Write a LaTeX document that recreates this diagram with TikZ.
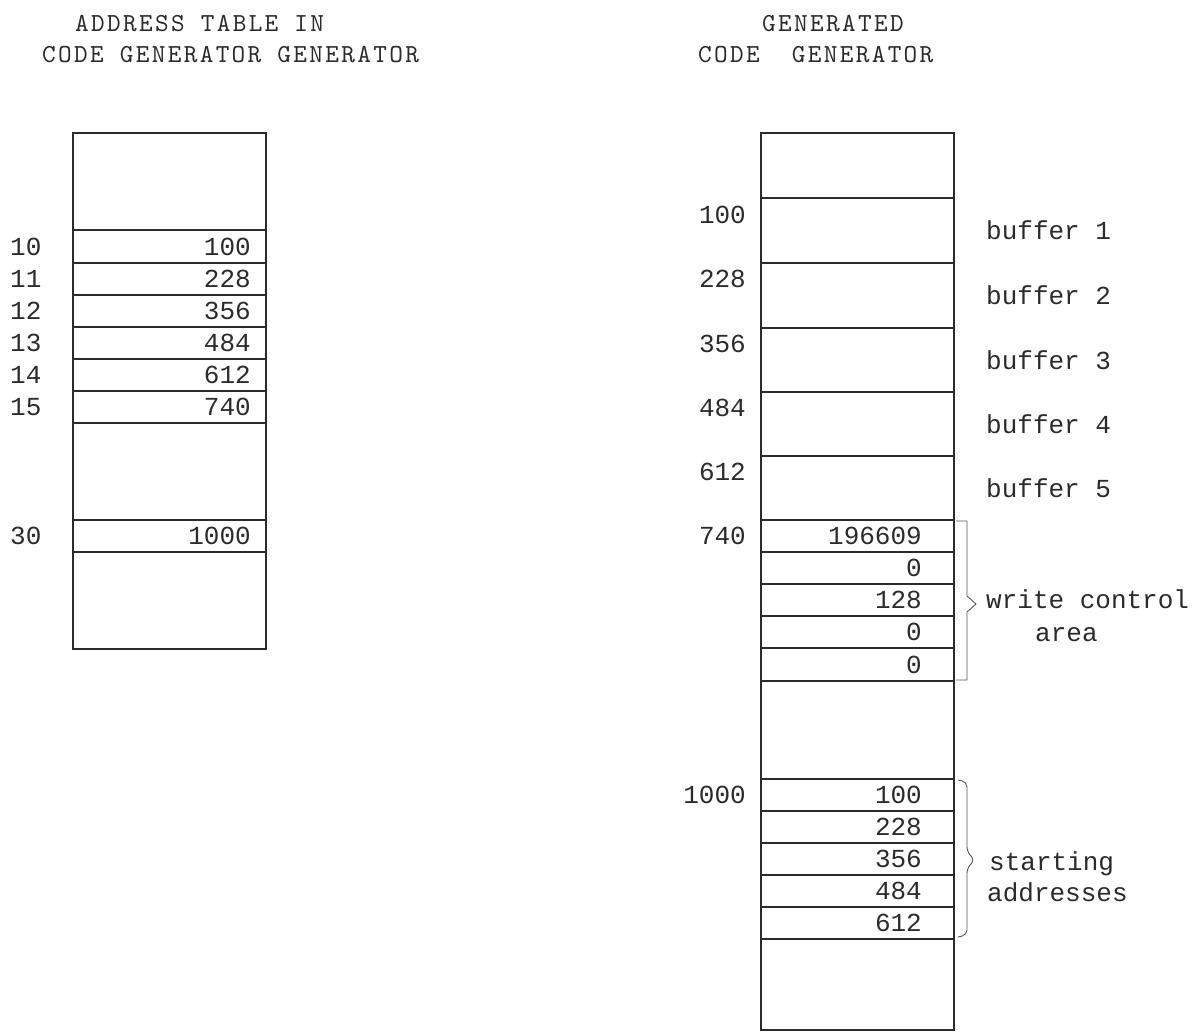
\documentclass[tikz,border=0pt]{standalone}
\usepackage{fontspec}
\newfontfamily\numfont{Liberation Mono}
\newfontfamily\ttlfont{lmmono10-regular}[Extension=.otf, LetterSpace=9]
\definecolor{ink}{HTML}{2B2B2B}
\begin{document}
\begin{tikzpicture}[x=1pt,y=-1pt,
  frame/.style={draw=ink, line width=1.3pt},
  sep/.style={draw=ink, line width=1.2pt},
  bracket/.style={draw=ink!80, line width=0.9pt, line join=round},
  txt/.style={inner sep=0pt, text=ink, font=\numfont\fontsize{26}{30}\selectfont},
  val/.style={txt, anchor=east},
  lab/.style={txt, anchor=base west},
  ttl/.style={inner sep=0pt, text=ink, anchor=base west,
    font=\ttlfont\fontsize{26}{30}\selectfont}]
\useasboundingbox[fill=white] (0,0) rectangle (1196,1032);

% titles
\node[ttl] (t1) at (75,32) {ADDRESS TABLE IN};
\node[ttl] (t2) at (42,63) {CODE GENERATOR GENERATOR};
\node[ttl] (t3) at (762,32) {GENERATED};
\node[ttl] (t4) at (698,63) {CODE\ \ GENERATOR};

% left table
\draw[frame] (73,133) rectangle (266,649);
\foreach \y in {230,263,295,327,359,391,423,520,552}
  \draw[sep] (73,\y) -- (266,\y);
\foreach \l/\v/\c [count=\i] in {10/100/246.5, 11/228/279, 12/356/311,
    13/484/343, 14/612/375, 15/740/407, 30/1000/536} {
  \node[txt, anchor=west] (la\i) at (10,\c) {\l};
  \node[val] (lv\i) at (251,\c) {\v};
}

% right table
\draw[frame] (761,133) rectangle (954,1030);
\foreach \y in {198,263,328,392,456,520,552,584,616,648,681,779,811,843,875,907,939}
  \draw[sep] (761,\y) -- (954,\y);

% addresses at left of right table
\foreach \a/\y [count=\i] in {100/215, 228/279, 356/344, 484/408, 612/472, 740/536, 1000/795}
  \node[val] (ra\i) at (746,\y) {\a};

% buffers
\foreach \n/\y in {1/240, 2/305, 3/369, 4/433, 5/497}
  \node[lab] (b\n) at (986,\y) {buffer \n};

% write control area values
\foreach \v/\c [count=\i] in {196609/536, 0/568, 128/600, 0/632, 0/664.5}
  \node[val] (wv\i) at (922,\c) {\v};
% starting address values
\foreach \v/\c [count=\i] in {100/795, 228/827, 356/859, 484/891, 612/923}
  \node[val] (sv\i) at (922,\c) {\v};

% brackets
\coordinate (w1) at (956,521);
\coordinate (w2) at (956,680);
\draw[bracket] (w1) -- (967,521) -- (967,596) -- (976,604) -- (967,612) -- (967,680) -- (w2);
\node[lab] (wc1) at (986,608) {write control};
\node[lab] (wc2) at (1035,641) {area};

\coordinate (s1) at (958,780);
\coordinate (s2) at (958,937);
\draw[bracket, rounded corners=5pt] (s1) -- (967,782) -- (967,852) -- (975,860) -- (967,868) -- (967,935) -- (s2);
\node[lab] (sa1) at (989,870) {starting};
\node[lab] (sa2) at (987,901) {addresses};
\end{tikzpicture}
\end{document}
